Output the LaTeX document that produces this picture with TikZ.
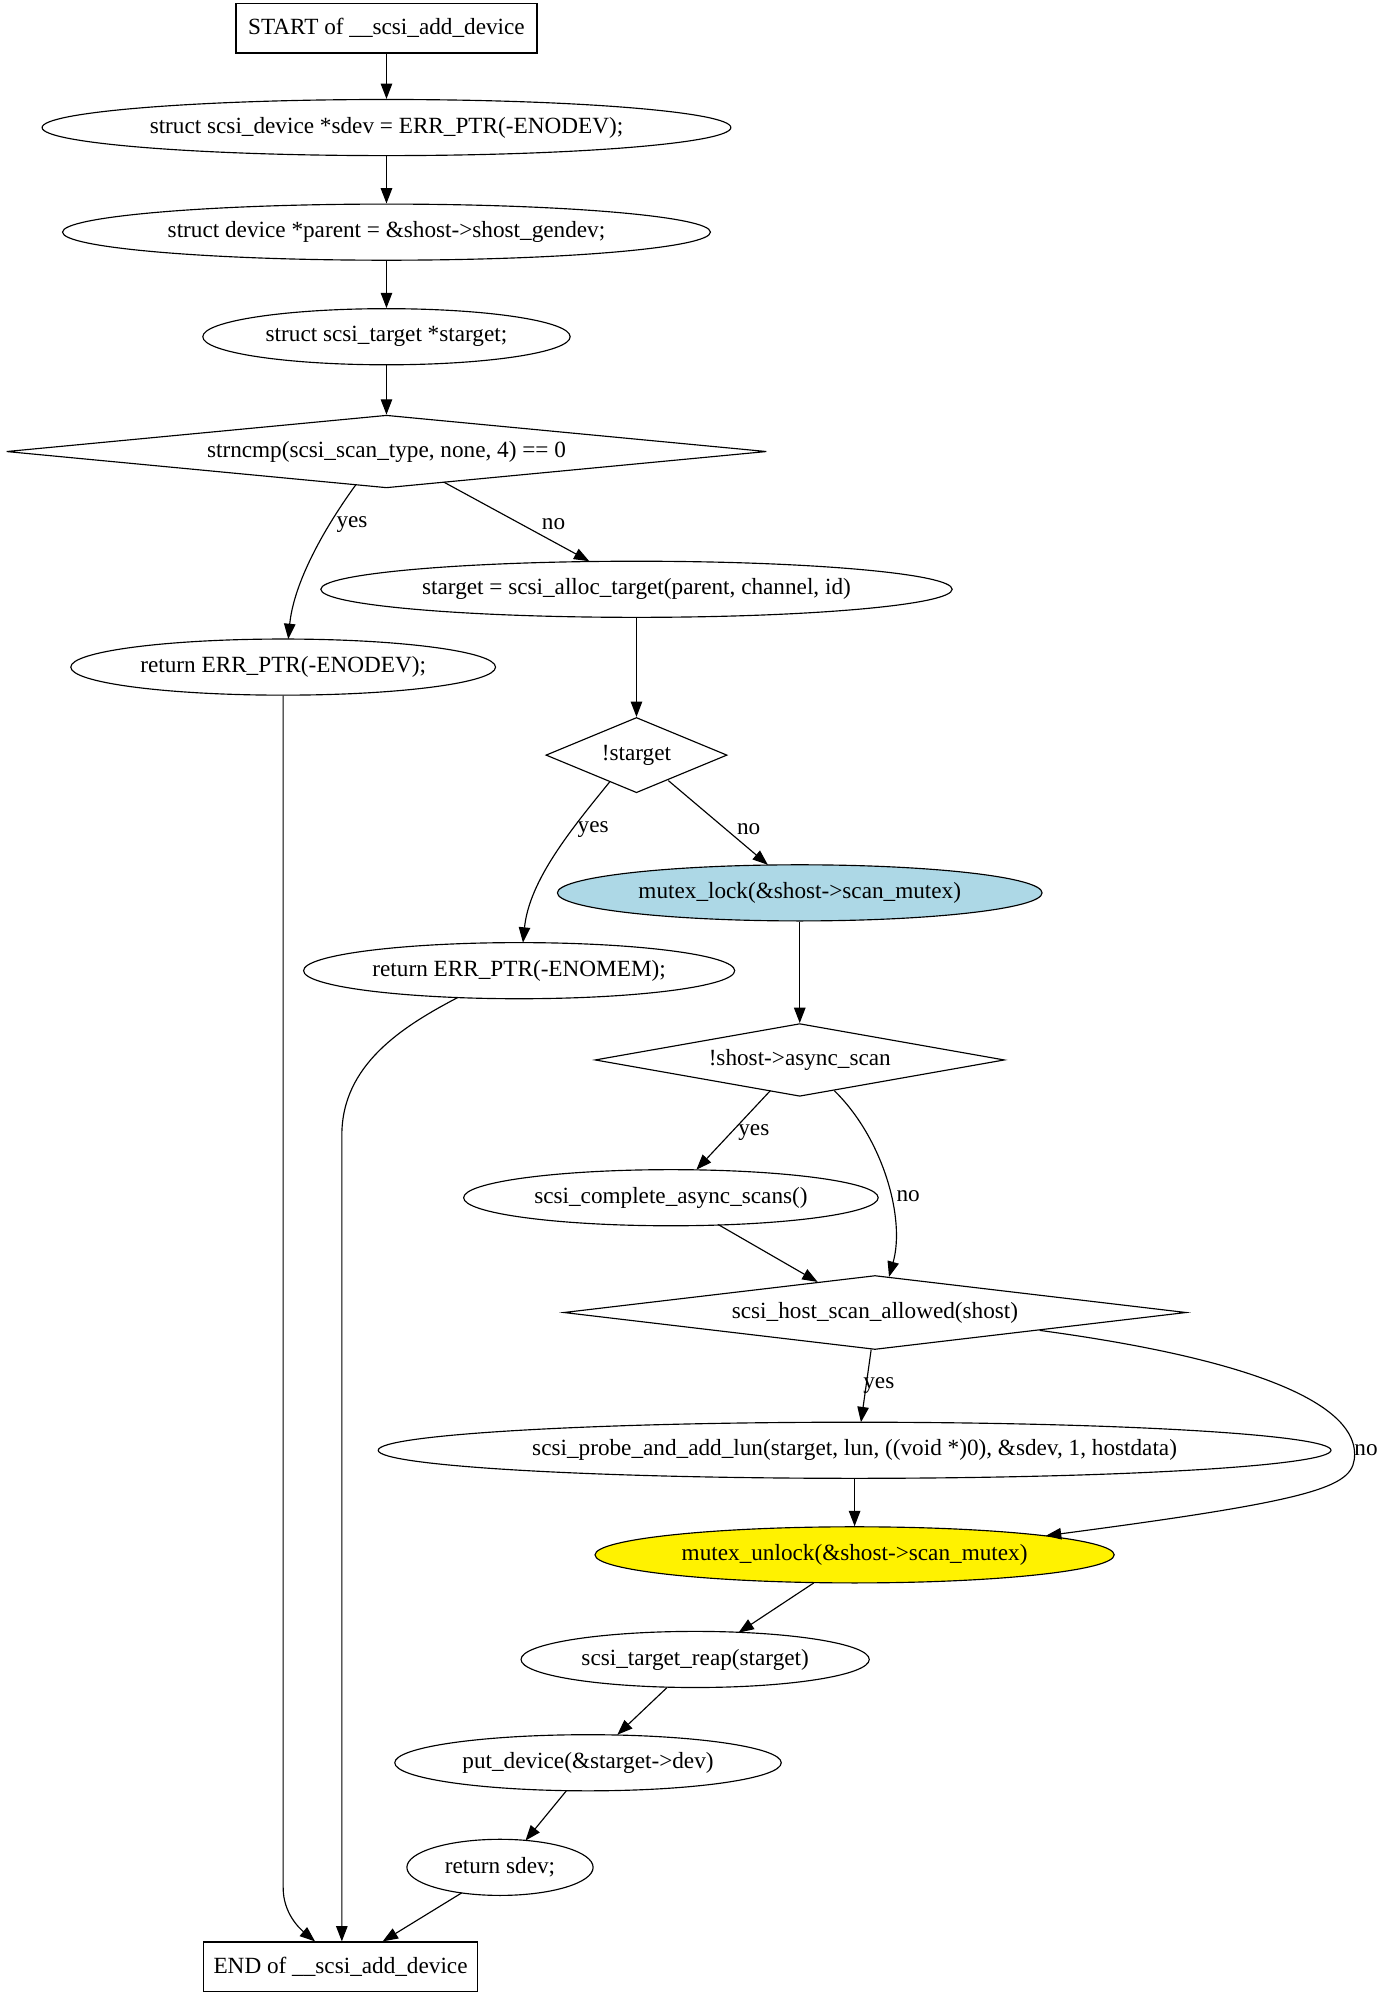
\documentclass[tikz,border=0pt]{standalone}
\usepackage{fontspec}
\setmainfont{Liberation Serif}
\usetikzlibrary{shapes.geometric,arrows.meta,calc}
\definecolor{lblue}{HTML}{ADD8E6}
\begin{document}
\begin{tikzpicture}[x=1pt,y=-1pt, font=\fontsize{18.2}{21}\selectfont,
 every node/.style={inner sep=0pt},
 boxnode/.style={draw, rectangle, line width=0.9pt},
 ell/.style={draw, ellipse, minimum height=44pt, line width=0.9pt},
 dia/.style={draw, diamond, line width=0.9pt},
 arr/.style={-{Triangle[length=12pt,width=9pt]}, line width=0.9pt},
 lbl/.style={}]
\useasboundingbox (0,0) rectangle (1087,1568);

\node[boxnode, minimum width=236pt, minimum height=39pt] (start) at (303,22) {START of \_\_scsi\_add\_device};
\node[ell, minimum width=540pt] (e1) at (303,100) {struct scsi\_device *sdev = ERR\_PTR(-ENODEV);};
\node[ell, minimum width=508pt] (e2) at (303,182) {struct device *parent = \&shost->shost\_gendev;};
\node[ell, minimum width=288pt] (e3) at (303,264) {struct scsi\_target *starget;};
\node[dia, minimum width=596pt, minimum height=57pt, aspect=10] (d1) at (303,354) {strncmp(scsi\_scan\_type, none, 4) == 0};
\node[ell, minimum width=333pt] (enodev) at (222,523) {return ERR\_PTR(-ENODEV);};
\node[ell, minimum width=495pt] (alloc) at (499,462) {starget = scsi\_alloc\_target(parent, channel, id)};
\node[dia, minimum width=142pt, minimum height=59pt, aspect=2.4] (st) at (499,592) {!starget};
\node[ell, minimum width=338pt] (enomem) at (407,761) {return ERR\_PTR(-ENOMEM);};
\node[ell, fill=lblue, minimum width=380pt] (lock) at (627,700) {mutex\_lock(\&shost->scan\_mutex)};
\node[dia, minimum width=321pt, minimum height=57pt, aspect=5.6] (async) at (627,831) {!shost->async\_scan};
\node[ell, minimum width=325pt] (complete) at (526,939) {scsi\_complete\_async\_scans()};
\node[dia, minimum width=488pt, minimum height=58pt, aspect=8.4] (host) at (686,1029) {scsi\_host\_scan\_allowed(shost)};
\node[ell, minimum width=747pt] (probe) at (670,1137) {scsi\_probe\_and\_add\_lun(starget, lun, ((void *)0), \&sdev, 1, hostdata)};
\node[ell, fill=yellow, minimum width=407pt] (unlock) at (670,1219) {mutex\_unlock(\&shost->scan\_mutex)};
\node[ell, minimum width=273pt] (reap) at (545,1301) {scsi\_target\_reap(starget)};
\node[ell, minimum width=303pt] (put) at (461,1382) {put\_device(\&starget->dev)};
\node[ell, minimum width=146pt] (ret) at (392,1464) {return sdev;};
\node[boxnode, minimum width=215pt, minimum height=39pt] (endb) at (267,1542) {END of \_\_scsi\_add\_device};

\draw[arr] (start) -- (e1);
\draw[arr] (e1) -- (e2);
\draw[arr] (e2) -- (e3);
\draw[arr] (e3) -- (d1);
\draw[arr] ($(d1.center)+(-24,26)$) .. controls (250,420) and (230,460) .. ($(enodev.center)+(4,-22)$)
  node[lbl, at={(276,411)}] {yes};
\draw[arr] ($(d1.center)+(45,24)$) -- ($(alloc.center)+(-37,-22)$)
  node[lbl, at={(434,411)}] {no};
\draw[arr] (alloc) -- (st);
\draw[arr] ($(st.center)+(-21,21)$) .. controls (448,650) and (415,690) .. ($(enomem.center)+(3,-22)$)
  node[lbl, at={(465,650)}] {yes};
\draw[arr] ($(st.center)+(25,20)$) -- ($(lock.center)+(-25,-22)$)
  node[lbl, at={(587,650)}] {no};
\draw[arr] (enodev.south) -- (222,1480) .. controls (222,1500) and (235,1512) .. ($(endb.north)+(-20,0)$);
\draw[arr] ($(enomem.center)+(-48,21)$) .. controls (315,805) and (268,835) .. (268,890) -- ($(endb.north)+(1,0)$);
\draw[arr] (lock) -- (async);
\draw[arr] ($(async.center)+(-23,24)$) -- ($(complete.center)+(20,-22)$)
  node[lbl, at={(591,888)}] {yes};
\draw[arr] ($(async.center)+(27,24)$) .. controls (692,892) and (710,955) .. ($(host.center)+(11,-28)$)
  node[lbl, at={(712,938)}] {no};
\draw[arr] ($(complete.center)+(37,21)$) -- ($(host.center)+(-45,-24)$);
\draw[arr] ($(host.center)+(-3,29)$) -- ($(probe.center)+(5,-22)$)
  node[lbl, at={(689,1086)}] {yes};
\draw[arr] ($(host.center)+(129,14)$) .. controls (1000,1068) and (1062,1105) .. (1062,1140)
  .. controls (1062,1165) and (1040,1175) .. ($(unlock.center)+(150,-15)$)
  node[lbl, at={(1071,1137)}] {no};
\draw[arr] (probe) -- (unlock);
\draw[arr] ($(unlock.center)+(-32,22)$) -- ($(reap.center)+(34,-21)$);
\draw[arr] ($(reap.center)+(-22,22)$) -- ($(put.center)+(23,-22)$);
\draw[arr] ($(put.center)+(-17,22)$) -- ($(ret.center)+(20,-21)$);
\draw[arr] ($(ret.center)+(-30,20)$) -- ($(endb.north)+(33,0)$);
\end{tikzpicture}
\end{document}
